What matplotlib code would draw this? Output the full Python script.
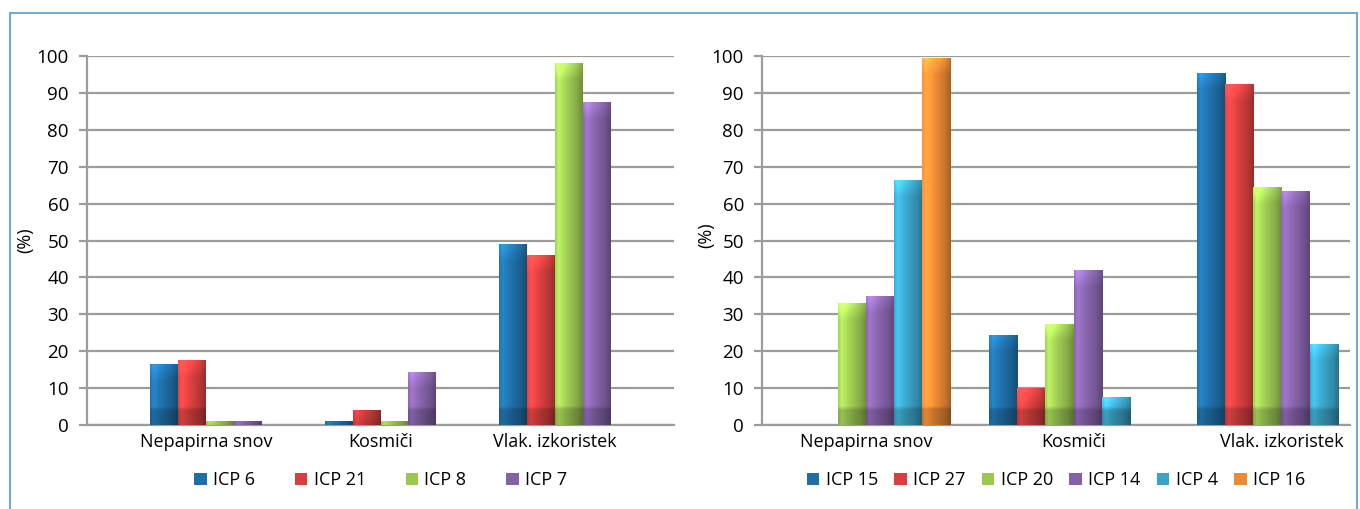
import numpy as np
import matplotlib
matplotlib.use("Agg")
import matplotlib.pyplot as plt
import matplotlib.colors as mcolors
from matplotlib.patches import Rectangle

plt.rcParams['font.family'] = ['Open Sans', 'DejaVu Sans']

categories = ['Nepapirna snov', 'Kosmiči', 'Vlak. izkoristek']

# left chart
left_names = ['ICP 6', 'ICP 21', 'ICP 8', 'ICP 7']
icp6 = [16.5, 1.0, 49.0]
icp21 = [17.5, 4.0, 46.0]
icp8 = [1.2, 1.2, 98.0]
icp7 = [1.2, 14.5, 87.5]
left_values = [icp6, icp21, icp8, icp7]
left_colors = ['#1F6EA6', '#D6403F', '#9CC852', '#8462A8']

# right chart
right_names = ['ICP 15', 'ICP 27', 'ICP 20', 'ICP 14', 'ICP 4', 'ICP 16']
icp15 = [0, 24.5, 95.5]
icp27 = [0, 10.0, 92.5]
icp20 = [33.0, 27.5, 64.5]
icp14 = [35.0, 42.0, 63.5]
icp4 = [66.5, 7.5, 22.0]
icp16 = [99.5, 0, 0]
right_values = [icp15, icp27, icp20, icp14, icp4, icp16]
right_colors = ['#1F6EA6', '#D6403F', '#9CC852', '#8462A8', '#3AA3C6', '#EA8A34']

GRID = '#9C9C9C'


def shade(ax, bars, color):
    # fake the 3D look: light left side, dark right edge, dark floor band
    rgb = np.array(mcolors.to_rgb(color))
    xs = np.linspace(0, 1, 40)
    hfac = np.interp(xs, [0, 0.12, 0.4, 0.8, 1.0], [1.05, 1.22, 1.05, 0.85, 0.7])
    for b in bars:
        x, y, w, h = b.get_x(), b.get_y(), b.get_width(), b.get_height()
        if h <= 0:
            continue
        ys = np.linspace(y + h, y, 200)
        vfac = np.interp(ys, [y, y + 4.0, y + 5.0, y + 6.0], [0.8, 0.8, 1.0, 1.0])
        top = np.interp(ys - (y + h), [-4.5, -0.5, 0], [0.0, 1.0, 1.0])
        vfac = vfac * (1 + 0.18 * top)
        fac = vfac[:, None] * hfac[None, :]
        img = np.clip(rgb[None, None, :] * fac[:, :, None], 0, 1)
        im = ax.imshow(img, extent=[x, x + w, y, y + h], aspect='auto',
                       interpolation='bilinear', zorder=3)
        im.set_clip_path(b)


def draw(ax, names, values, colors, width, xlim, colsp):
    x = np.arange(len(categories))
    n = len(names)
    for i, (name, vals, col) in enumerate(zip(names, values, colors)):
        bars = ax.bar(x + (i - (n - 1) / 2) * width, vals, width, color=col,
                      label=name, zorder=2, linewidth=0)
        shade(ax, bars, col)
    ax.set_xlim(*xlim)
    ax.set_ylim(0, 100)
    ax.set_yticks(range(0, 101, 10))
    ax.set_xticks(x)
    ax.set_xticklabels(categories)
    ax.yaxis.grid(True, color=GRID, linewidth=1.6)
    ax.set_axisbelow(True)
    for s in ['top', 'right']:
        ax.spines[s].set_visible(False)
    ax.spines['left'].set_color(GRID)
    ax.spines['left'].set_linewidth(1.6)
    ax.spines['bottom'].set_color(GRID)
    ax.spines['bottom'].set_linewidth(1.6)
    ax.tick_params(axis='y', length=6, width=1.6, color=GRID, pad=7, labelsize=13.5)
    ax.tick_params(axis='x', length=0, pad=6, labelsize=13)
    ax.legend(loc='center', bbox_to_anchor=(0.5, -0.15), ncol=n,
              frameon=False, fontsize=13, handlelength=0.7, handleheight=0.7,
              handletextpad=0.35, columnspacing=colsp, borderpad=0)


fig = plt.figure(figsize=(13.6, 5.09), dpi=100)
ax1 = fig.add_axes([0.064, 0.165, 0.4316, 0.725])
ax2 = fig.add_axes([0.5603, 0.165, 0.4324, 0.725])

draw(ax1, left_names, left_values, left_colors, 0.16, (-0.68, 2.68), 2.2)
draw(ax2, right_names, right_values, right_colors, 0.136, (-0.50, 2.33), 0.9)

fig.text(25 / 1360, 1 - 240 / 509, '(%)', rotation=90, ha='center', va='center', fontsize=13)
fig.text(706 / 1360, 1 - 235 / 509, '(%)', rotation=90, ha='center', va='center', fontsize=13)

fig.add_artist(Rectangle((10 / 1360, -0.05), 1347 / 1360, 0.05 + 1 - 13 / 509,
                         transform=fig.transFigure, fill=False,
                         edgecolor='#74AAD2', linewidth=1.5))

fig.savefig('out.png', dpi=100)
